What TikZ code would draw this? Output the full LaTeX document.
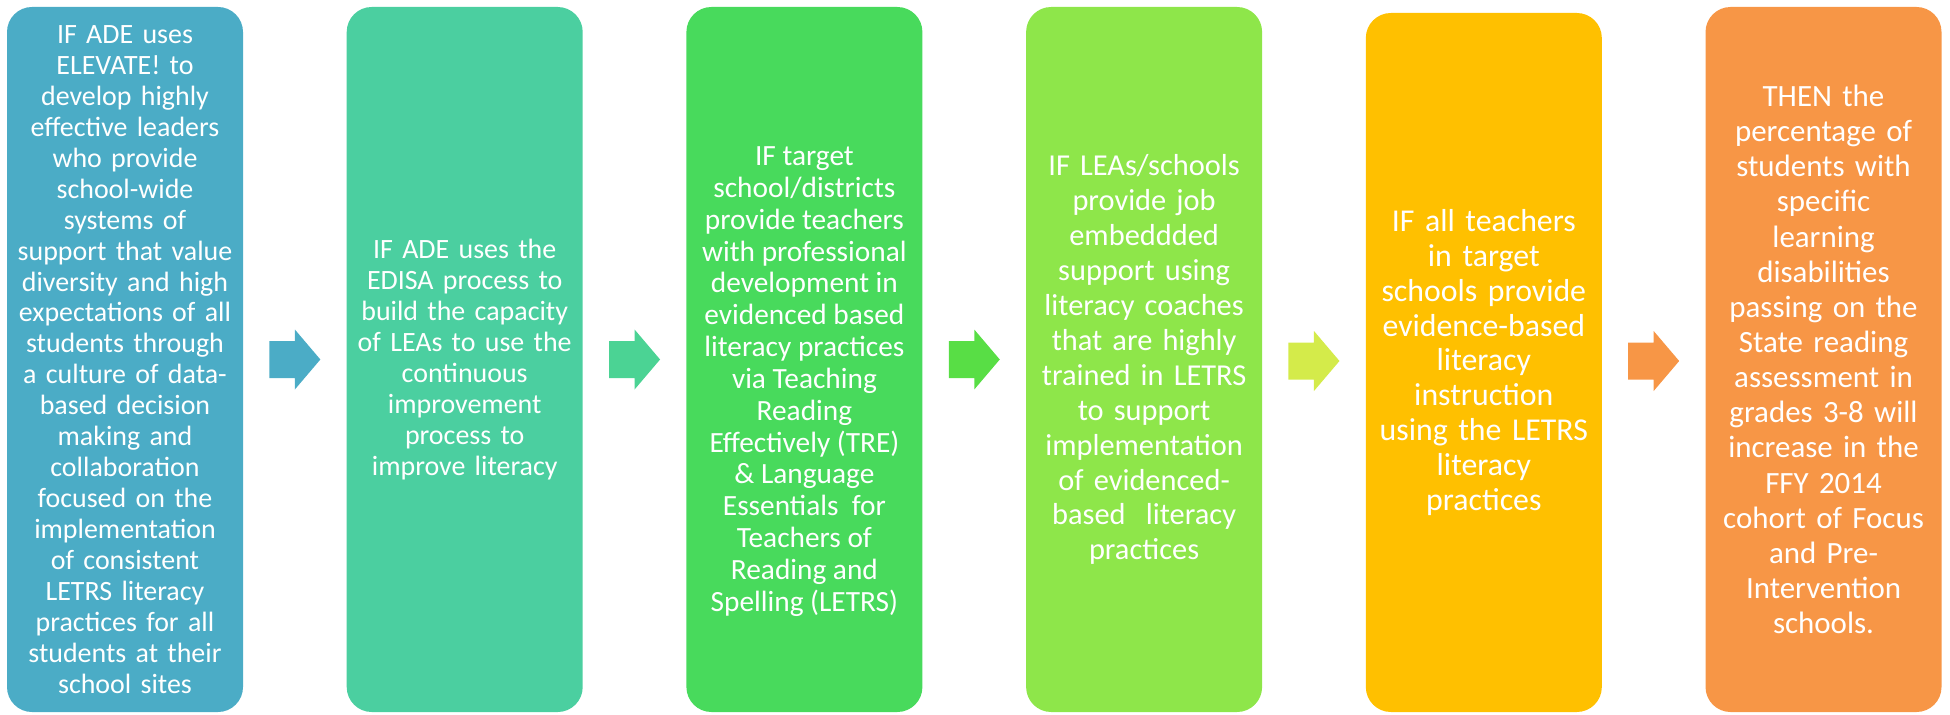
\documentclass[tikz,border=0pt]{standalone}
\usepackage{fontspec}
\setmainfont{Carlito}
\usepackage{xcolor}
\usetikzlibrary{positioning}

\definecolor{c1}{HTML}{4BACC6}
\definecolor{c2}{HTML}{4BCFA0}
\definecolor{c3}{HTML}{48DA5C}
\definecolor{c4}{HTML}{8EE64A}
\definecolor{c5}{HTML}{FFC000}
\definecolor{c6}{HTML}{F79646}
\definecolor{a2}{HTML}{4BD394}
\definecolor{a3}{HTML}{58DE45}
\definecolor{a4}{HTML}{D4EB4A}

\begin{document}
\begin{tikzpicture}
[node distance=20.6mm]
\tikzset{
	stage/.style = {rounded corners=5mm, fill=#1, minimum width=47.2mm, minimum height=141mm,
		inner sep=0pt, text width=47mm, align=center, text=white},
	fs/.style 2 args = {font=\fontsize{#1}{#2}\selectfont},
	blockarrow/.pic = {
		\path[pic actions] (-5.1mm,-3.7mm) -- (0,-3.7mm) -- (0,-6mm) -- (5.1mm,0)
			-- (0,6mm) -- (0,3.7mm) -- (-5.1mm,3.7mm) -- cycle;
	}
}

\useasboundingbox (0,0) rectangle (39,14.28);

\node(s1) [stage=c1, fs={15.9}{17.6}] at (2.5,7.09) {IF ADE uses\\ ELEVATE! to\\ develop highly\\
	effective leaders\\ who provide\\ school-wide\\ systems of\\ support that value\\
	diversity and high\\ expectations of all\\ students through\\ a culture of data-\\
	based decision\\ making and\\ collaboration\\ focused on the\\ implementation\\
	of consistent\\ LETRS literacy\\ practices for all\\ students at their\\ school sites};

\node(s2) [stage=c2, fs={15.9}{17.6}, right=of s1] {IF ADE uses the\\ EDISA process to\\
	build the capacity\\ of LEAs to use the\\ continuous\\ improvement\\ process to\\ improve literacy};

\node(s3) [stage=c3, right=of s2] {};
\node(t3) [fs={16.7}{18.1}, text=white, align=center] at ([yshift=-4.4mm]s3.center) {IF target\\
	school/districts\\ provide teachers\\ with professional\\ development in\\ evidenced based\\
	literacy practices\\ via Teaching\\ Reading\\ Effectively (TRE)\\ \& Language\\
	Essentials~~for\\ Teachers of\\ Reading and\\ Spelling (LETRS)};

\node(s4) [stage=c4, fs={17.3}{19.9}, right=of s3] {IF LEAs/schools\\ provide job\\ embeddded\\
	support using\\ literacy coaches\\ that are highly\\ trained in LETRS\\ to support\\
	implementation\\ of evidenced-\\ based~~literacy\\ practices};

\node(s5) [stage=c5, fs={18.1}{19.8}, right=of s4, minimum height=139.8mm, yshift=-0.6mm] {IF all teachers\\
	in target\\ schools provide\\ evidence-based\\ literacy\\ instruction\\ using the LETRS\\
	literacy\\ practices};

\node(s6) [stage=c6, fs={17.6}{20}, right=of s5, yshift=0.6mm] {THEN the\\ percentage of\\
	students with\\ specific\\ learning\\ disabilities\\ passing on the\\ State reading\\
	assessment in\\ grades 3-8 will\\ increase in the\\ FFY 2014\\ cohort of Focus\\
	and Pre-\\ Intervention\\ schools.};

\path (s1.east) -- (s2.west) coordinate[midway] (m1);
\path (s2.east) -- (s3.west) coordinate[midway] (m2);
\path (s3.east) -- (s4.west) coordinate[midway] (m3);
\path (s4.east) -- (s5.west) coordinate[midway] (m4);
\path (s5.east) -- (s6.west) coordinate[midway] (m5);

\pic[fill=c1] at (m1) {blockarrow};
\pic[fill=a2] at (m2) {blockarrow};
\pic[fill=a3] at (m3) {blockarrow};
\pic[fill=a4] at (m4) {blockarrow};
\pic[fill=c6] at (m5) {blockarrow};
\end{tikzpicture}
\end{document}
